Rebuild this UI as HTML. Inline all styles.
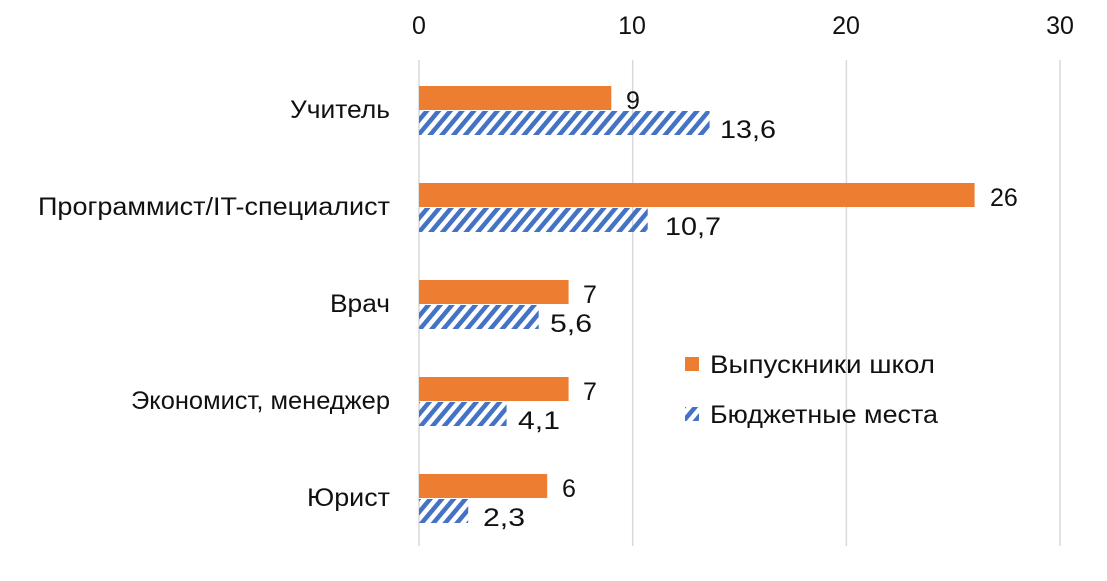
<!DOCTYPE html>
<html><head><meta charset="utf-8"><style>
body{margin:0;background:#fff;}
svg text{font-family:"Liberation Sans","DejaVu Sans",sans-serif;fill:#111;}
</style></head><body>
<svg width="1107" height="576" viewBox="0 0 1107 576" xmlns="http://www.w3.org/2000/svg">
<defs>
<pattern id="h" patternUnits="userSpaceOnUse" width="9" height="9" patternTransform="rotate(40)">
<rect x="0" y="0" width="4.5" height="9" fill="#4472C4"/>
</pattern>
</defs>
<rect width="1107" height="576" fill="#fff"/>
<g stroke="#d9d9d9" stroke-width="1.5">
<line x1="419" y1="60" x2="419" y2="546"/>
<line x1="632.7" y1="60" x2="632.7" y2="546"/>
<line x1="846.4" y1="60" x2="846.4" y2="546"/>
<line x1="1060" y1="60" x2="1060" y2="546"/>
</g>
<g font-size="25" text-anchor="middle">
<text x="419" y="34">0</text><text x="632" y="34">10</text><text x="846" y="34">20</text><text x="1060" y="34">30</text>
</g>
<g fill="#ED7D31">
<rect x="419" y="86" width="192.3" height="24"/>
<rect x="419" y="183" width="555.6" height="24"/>
<rect x="419" y="280" width="149.6" height="24"/>
<rect x="419" y="377" width="149.6" height="24"/>
<rect x="419" y="474" width="128.2" height="24"/>
</g>
<g fill="url(#h)">
<rect x="419" y="111" width="290.6" height="24"/>
<rect x="419" y="208" width="228.7" height="24"/>
<rect x="419" y="305" width="119.7" height="24"/>
<rect x="419" y="402" width="87.6" height="24"/>
<rect x="419" y="499" width="49.2" height="24"/>
</g>
<g font-size="25">
<text x="626" y="109">9</text><text x="720" y="138" textLength="56" lengthAdjust="spacingAndGlyphs">13,6</text>
<text x="990" y="206">26</text><text x="665" y="235" textLength="56" lengthAdjust="spacingAndGlyphs">10,7</text>
<text x="583" y="303">7</text><text x="550" y="332" textLength="42" lengthAdjust="spacingAndGlyphs">5,6</text>
<text x="583" y="400">7</text><text x="518" y="429" textLength="42" lengthAdjust="spacingAndGlyphs">4,1</text>
<text x="562" y="497">6</text><text x="483" y="526" textLength="42" lengthAdjust="spacingAndGlyphs">2,3</text>
</g>
<g font-size="25">
<text x="290" y="118" textLength="100" lengthAdjust="spacingAndGlyphs">Учитель</text>
<text x="38" y="215" textLength="352" lengthAdjust="spacingAndGlyphs">Программист/IT-специалист</text>
<text x="330" y="312" textLength="60" lengthAdjust="spacingAndGlyphs">Врач</text>
<text x="131" y="409" textLength="259" lengthAdjust="spacingAndGlyphs">Экономист, менеджер</text>
<text x="307" y="506" textLength="83" lengthAdjust="spacingAndGlyphs">Юрист</text>
</g>
<rect x="685" y="357" width="14" height="14" fill="#ED7D31"/>
<text x="710" y="373" font-size="25" textLength="225" lengthAdjust="spacingAndGlyphs">Выпускники школ</text>
<rect x="685" y="407" width="14" height="14" fill="url(#h)"/>
<text x="710" y="423" font-size="25" textLength="228" lengthAdjust="spacingAndGlyphs">Бюджетные места</text>
</svg>
</body></html>
